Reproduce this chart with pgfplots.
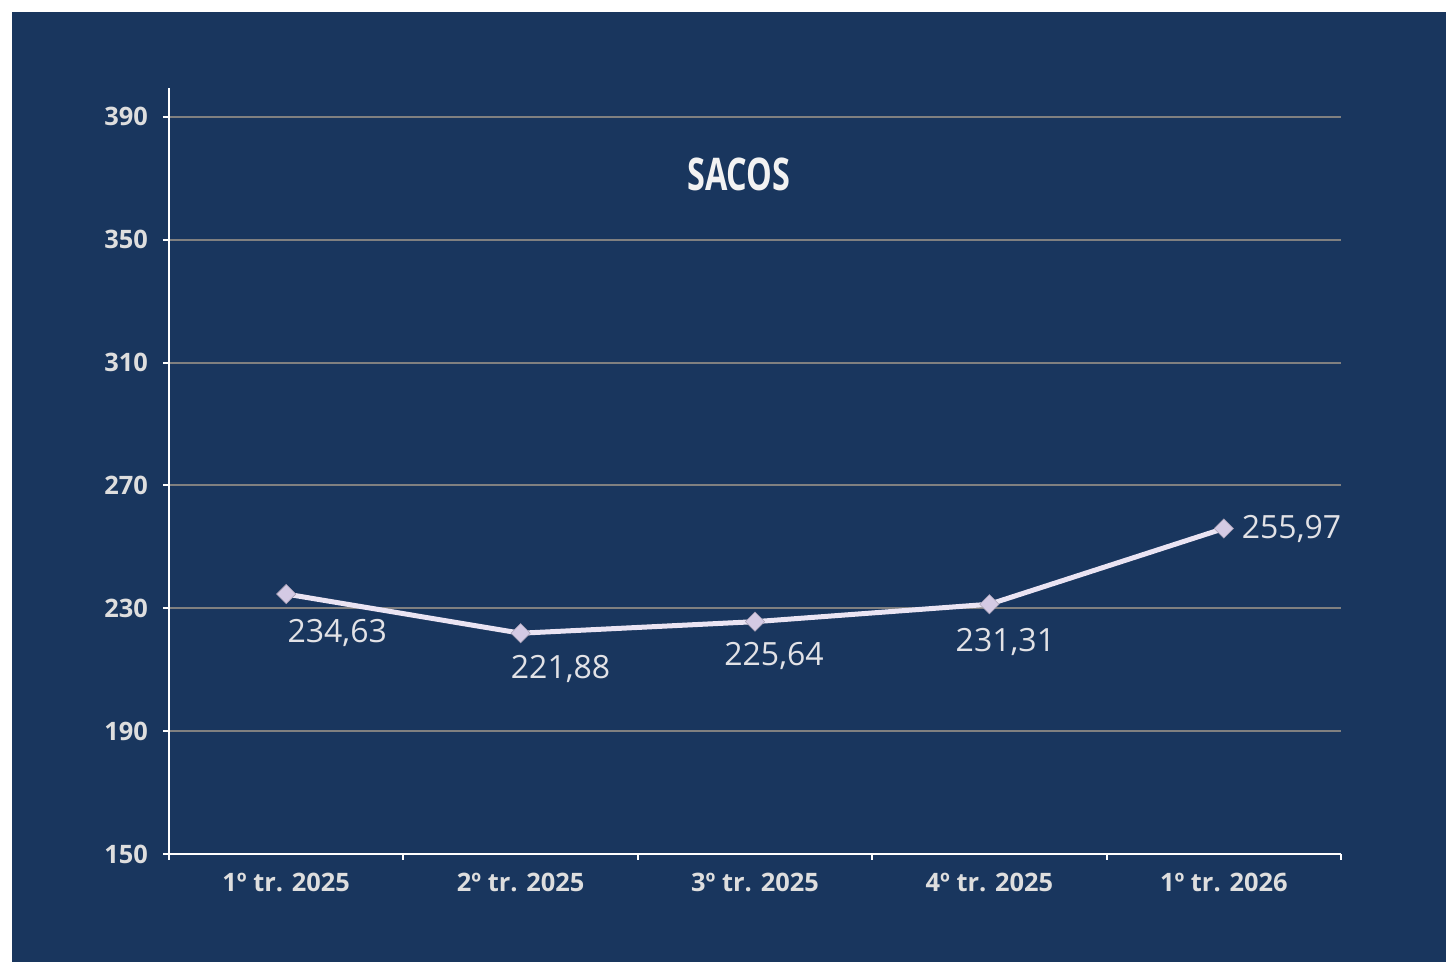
\documentclass[border=0pt]{standalone}
\usepackage{pgfplots}
\pgfplotsset{compat=1.18}
\usepackage{fontspec}
\setmainfont{Open Sans}
\definecolor{navy}{RGB}{25,54,94}
\definecolor{gridgray}{RGB}{128,128,128}
\definecolor{linec}{RGB}{234,228,243}
\definecolor{markc}{RGB}{212,202,228}
\definecolor{txt}{RGB}{226,226,230}
\definecolor{ticktxt}{RGB}{222,222,222}
\begin{document}
\begin{tikzpicture}
\useasboundingbox (0,0) rectangle (723pt,481pt);
\fill[white] (0,0) rectangle (723pt,481pt);
\fill[navy] (6pt,0) rectangle (723pt,475pt);
\begin{axis}[
  at={(84.5pt,54pt)}, anchor=south west,
  scale only axis, width=586pt, height=383pt,
  xmin=-0.5, xmax=4.5, ymin=150, ymax=399.4,
  axis x line=bottom, axis y line=left,
  axis line style={white, line width=1pt, -},
  xtick={-0.5,0.5,1.5,2.5,3.5,4.5},
  x tick label as interval,
  xticklabels={1º tr. 2025,2º tr. 2025,3º tr. 2025,4º tr. 2025,1º tr. 2026},
  ytick={150,190,230,270,310,350,390},
  tick align=outside,
  major tick length=3pt,
  tick style={white, line width=1pt},
  ymajorgrids,
  grid style={gridgray, line width=1pt},
  /pgf/number format/assume math mode=true,
  ticklabel style={font=\fontsize{12.7}{14}\selectfont\bfseries, text=ticktxt},
  xticklabel style={yshift=-3pt},
  yticklabel style={xshift=-4pt},
  clip=false,
]
\addplot[linec, line width=2.5pt, mark=square*, mark size=3.4pt,
  mark options={rotate=45, fill=markc, draw=markc!80!black, line width=0.3pt}]
  coordinates {(0,234.63) (1,221.88) (2,225.64) (3,231.31) (4,255.97)};
\begin{scope}[every node/.style={text=txt, font=\fontsize{16}{18}\selectfont}]
\node at ([xshift=25.5pt,yshift=-19.5pt]axis cs:0,234.63) {234,63};
\node at ([xshift=20pt,yshift=-18pt]axis cs:1,221.88) {221,88};
\node at ([xshift=9.5pt,yshift=-17pt]axis cs:2,225.64) {225,64};
\node at ([xshift=8pt,yshift=-19pt]axis cs:3,231.31) {231,31};
\node[anchor=west] at ([xshift=5.5pt]axis cs:4,255.97) {255,97};
\end{scope}
\end{axis}
\node[text=white!95!black, font=\fontsize{22.5}{24}\selectfont\bfseries, xscale=0.72, transform shape] at (369.5pt,394pt) {SACOS};
\end{tikzpicture}
\end{document}
